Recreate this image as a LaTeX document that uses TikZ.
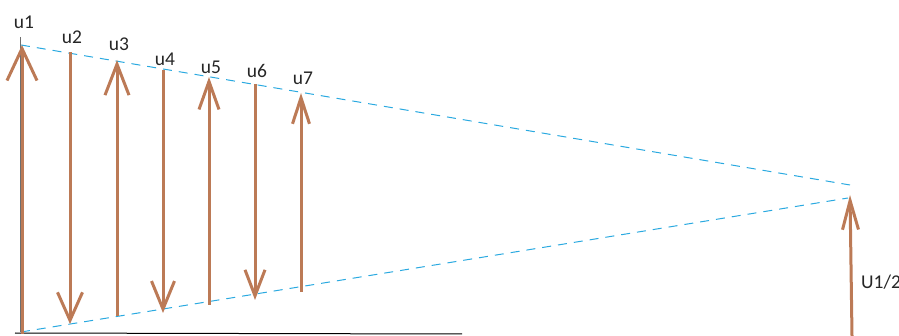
\documentclass[tikz,border=0pt]{standalone}
\usepackage{fontspec}
\setmainfont{Carlito}
\usetikzlibrary{arrows.meta,positioning}
\definecolor{uBrown}{HTML}{BC7A56}
\definecolor{uCyan}{HTML}{2AA9E0}
\definecolor{uGray}{HTML}{6E6E6E}

\begin{document}
\begin{tikzpicture}[x=1pt,y=-1pt,
  vec/.style 2 args={uBrown, line width=3pt, -{Straight Barb[length=#1pt,width=#2pt,line width=3pt]}},
  env/.style={uCyan, line width=1pt, dash pattern=on 9pt off 7pt},
  lbl/.style={font=\fontsize{19.5}{21}\selectfont, text=black!85, inner sep=0pt}]
  \useasboundingbox (0,0) rectangle (899,336);
  % envelope corners
  \coordinate (eA) at (21,45);
  \coordinate (eB) at (850,185);
  \coordinate (eC) at (21,332);
  \coordinate (eD) at (848,198);
  \draw[env] (eA) -- (eB);
  \draw[env] (eC) -- (eD);
  % axis lines
  \coordinate (ax1) at (20,37);
  \coordinate (ax2) at (20,332);
  \draw[uGray, line width=1pt] (ax1) -- (ax2);
  \coordinate (bl1) at (15,333);
  \coordinate (bl2) at (462,334);
  \draw[black, line width=1pt] (bl1) -- (bl2);
  % samples: x / top / bottom / up(1) or down(0) / label y / head length / head width
  \foreach \i/\x/\t/\b/\up/\ly/\hl/\hw in {
     1/22/45/334/1/22/32/30,
     2/70/52/324/0/37/28/25,
     3/117/60/316/1/44/31/24,
     4/163/70/313/0/59/28/23,
     5/209/77/305/1/67/28/20,
     6/255/84/300/0/71/26/20,
     7/301/93/292/1/78/26/17}{
     \coordinate (t\i) at (\x,\t);
     \coordinate (b\i) at (\x,\b);
     \ifnum\up=1
       \draw[vec={\hl}{\hw}] (b\i) -- (t\i);
     \else
       \draw[vec={\hl}{\hw}] (t\i) -- (b\i);
     \fi
     \node[lbl] (u\i) at (\x+2,\ly) {u\i};
  }
  % last one, half height
  \coordinate (tH) at (850,195);
  \coordinate (bH) at (852,336);
  \draw[vec={29}{16}] (bH) -- (tH);
  \node[lbl, anchor=west] (uH) at (861,282) {U1/2};
\end{tikzpicture}
\end{document}
